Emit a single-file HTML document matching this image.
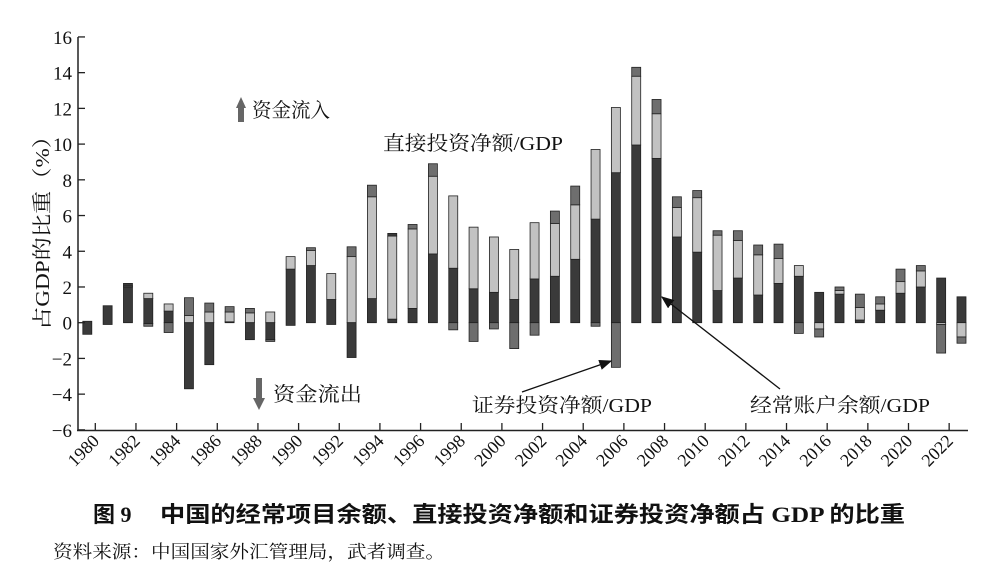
<!DOCTYPE html>
<html><head><meta charset="utf-8"><style>
body{margin:0;background:#fff;width:1002px;height:577px;overflow:hidden}
svg{display:block}
.t{font-family:"Liberation Serif","Noto Serif CJK SC",serif;fill:#111}
</style></head><body>
<svg id="s" width="1002" height="577" xmlns="http://www.w3.org/2000/svg"></svg>
<script>
const D='#3a3a3a',L='#c2c2c2',M='#6e6e6e';
const data={
1980:[[D,-0.65,0.08]],
1981:[[D,-0.1,0.95]],
1982:[[D,0,2.0],[L,2.0,2.06],[D,2.06,2.2]],
1983:[[D,-0.05,1.35],[L,1.35,1.65],[M,-0.2,-0.05]],
1984:[[D,0,0.65],[L,0.65,1.05],[M,-0.55,0]],
1985:[[L,0,0.4],[M,0.4,1.4],[D,-3.7,0]],
1986:[[L,0,0.6],[M,0.6,1.1],[D,-2.35,0]],
1987:[[D,0,0.05],[L,0.05,0.6],[M,0.6,0.9]],
1988:[[L,0,0.55],[M,0.55,0.8],[D,-0.95,0]],
1989:[[L,0,0.6],[D,-0.95,0],[M,-1.05,-0.95]],
1990:[[D,-0.15,3.0],[L,3.0,3.7]],
1991:[[D,0,3.2],[L,3.2,4.05],[M,4.05,4.2]],
1992:[[D,-0.1,1.3],[L,1.3,2.75]],
1993:[[L,0,3.7],[M,3.7,4.25],[D,-1.95,0]],
1994:[[D,0,1.35],[L,1.35,7.05],[M,7.05,7.7]],
1995:[[D,0,0.2],[L,0.2,4.85],[D,4.85,5.0]],
1996:[[D,0,0.8],[L,0.8,5.25],[M,5.25,5.5]],
1997:[[D,0,3.85],[L,3.85,8.2],[M,8.2,8.9]],
1998:[[D,0,3.05],[L,3.05,7.1],[M,-0.4,0]],
1999:[[D,0,1.9],[L,1.9,5.35],[M,-1.05,0]],
2000:[[D,0,1.7],[L,1.7,4.8],[M,-0.35,0]],
2001:[[D,0,1.3],[L,1.3,4.1],[M,-1.45,0]],
2002:[[D,0,2.45],[L,2.45,5.6],[M,-0.7,0]],
2003:[[D,0,2.6],[L,2.6,5.55],[M,5.55,6.25]],
2004:[[D,0,3.55],[L,3.55,6.6],[M,6.6,7.65]],
2005:[[D,0,5.8],[L,5.8,9.7],[M,-0.2,0]],
2006:[[D,0,8.4],[L,8.4,12.05],[M,-2.5,0]],
2007:[[D,0,9.95],[L,9.95,13.8],[M,13.8,14.3]],
2008:[[D,0,9.2],[L,9.2,11.7],[M,11.7,12.5]],
2009:[[D,0,4.8],[L,4.8,6.45],[M,6.45,7.05]],
2010:[[D,0,3.95],[L,3.95,7.0],[M,7.0,7.4]],
2011:[[D,0,1.8],[L,1.8,4.9],[M,4.9,5.15]],
2012:[[D,0,2.5],[L,2.5,4.6],[M,4.6,5.15]],
2013:[[D,0,1.55],[L,1.55,3.8],[M,3.8,4.35]],
2014:[[D,0,2.2],[L,2.2,3.6],[M,3.6,4.4]],
2015:[[D,0,2.6],[L,2.6,3.2],[M,-0.6,0]],
2016:[[D,0,1.7],[L,-0.35,0],[M,-0.8,-0.35]],
2017:[[D,0,1.6],[L,1.6,1.8],[M,1.8,2.0]],
2018:[[D,0,0.15],[L,0.15,0.85],[M,0.85,1.6]],
2019:[[D,0,0.7],[L,0.7,1.05],[M,1.05,1.45]],
2020:[[D,0,1.65],[L,1.65,2.3],[M,2.3,3.0]],
2021:[[D,0,2.0],[L,2.0,2.9],[M,2.9,3.2]],
2022:[[D,0,2.5],[L,-0.1,0],[M,-1.7,-0.1]],
2023:[[D,0,1.45],[L,-0.8,0],[M,-1.15,-0.8]]
};
const Y=v=>322.7-v*17.86, X=y=>87.3+20.33*(y-1980);
const LA='lengthAdjust="spacingAndGlyphs"';
let h='';
h+='<defs><marker id="a" markerWidth="10" markerHeight="8" refX="9" refY="4" orient="auto"><path d="M0,0L10,4L0,8Z" fill="#111"/></marker></defs>';
for(const yr in data){for(const [c,a,b] of data[yr]){h+=`<rect x="${X(+yr)-4.5}" y="${Y(b)}" width="9" height="${Y(a)-Y(b)}" fill="${c}" stroke="#222" stroke-width="0.8"/>`;}}
h+='<line x1="78" y1="37" x2="78" y2="430.5" stroke="#222" stroke-width="1.5"/><line x1="77" y1="430.5" x2="968" y2="430.5" stroke="#222" stroke-width="1.5"/>';
for(let v=-6;v<=16;v+=2){let y=Y(v);h+=`<line x1="78" y1="${y}" x2="85" y2="${y}" stroke="#222" stroke-width="1.3"/><text class="t" x="72" y="${y+7}" font-size="19" text-anchor="end">${v<0?'−'+(-v):v}</text>`;}
for(let yr=1980;yr<=2023;yr+=2){let x=X(yr)+8;h+=`<line x1="${x}" y1="430" x2="${x}" y2="423" stroke="#222" stroke-width="1.3"/><text class="t" font-size="18" text-anchor="end" transform="translate(${x+5},${442}) rotate(-45)">${yr}</text>`;}
h+=`<text class="t" font-size="20" x="0" y="0" textLength="205" ${LA} transform="translate(49,330) rotate(-90)">占GDP的比重（%）</text>`;
h+=`<text class="t" x="383" y="150" font-size="20" textLength="180" ${LA}>直接投资净额/GDP</text>`;
h+=`<path d="M236,108L241,97L246,108L244,108L244,122L238,122L238,108Z" fill="#666"/><text class="t" x="252" y="117" font-size="20" textLength="78" ${LA}>资金流入</text>`;
h+=`<path d="M256,378L262,378L262,398L265,398L259,410L253,398L256,398Z" fill="#666"/><text class="t" x="273" y="401" font-size="20" textLength="89" ${LA}>资金流出</text>`;
h+=`<text class="t" x="472" y="412" font-size="20" textLength="180" ${LA}>证券投资净额/GDP</text><line x1="522" y1="392" x2="611" y2="361" stroke="#111" stroke-width="1.3" marker-end="url(#a)"/>`;
h+=`<text class="t" x="750" y="412" font-size="20" textLength="180" ${LA}>经常账户余额/GDP</text><line x1="780" y1="389" x2="662" y2="297" stroke="#111" stroke-width="1.3" marker-end="url(#a)"/>`;
h+=`<text x="93" y="522" font-size="22" font-weight="bold" style="font-family:'Liberation Serif','Noto Sans CJK SC',sans-serif" fill="#111">图 9</text><text x="160" y="522" font-size="22" font-weight="bold" textLength="745" ${LA} style="font-family:'Liberation Serif','Noto Sans CJK SC',sans-serif" fill="#111">中国的经常项目余额、直接投资净额和证券投资净额占 GDP 的比重</text>`;
h+=`<text class="t" x="53" y="558" font-size="18" textLength="392" ${LA}>资料来源：中国国家外汇管理局，武者调查。</text>`;
document.getElementById('s').innerHTML=h;
</script>
</body></html>
